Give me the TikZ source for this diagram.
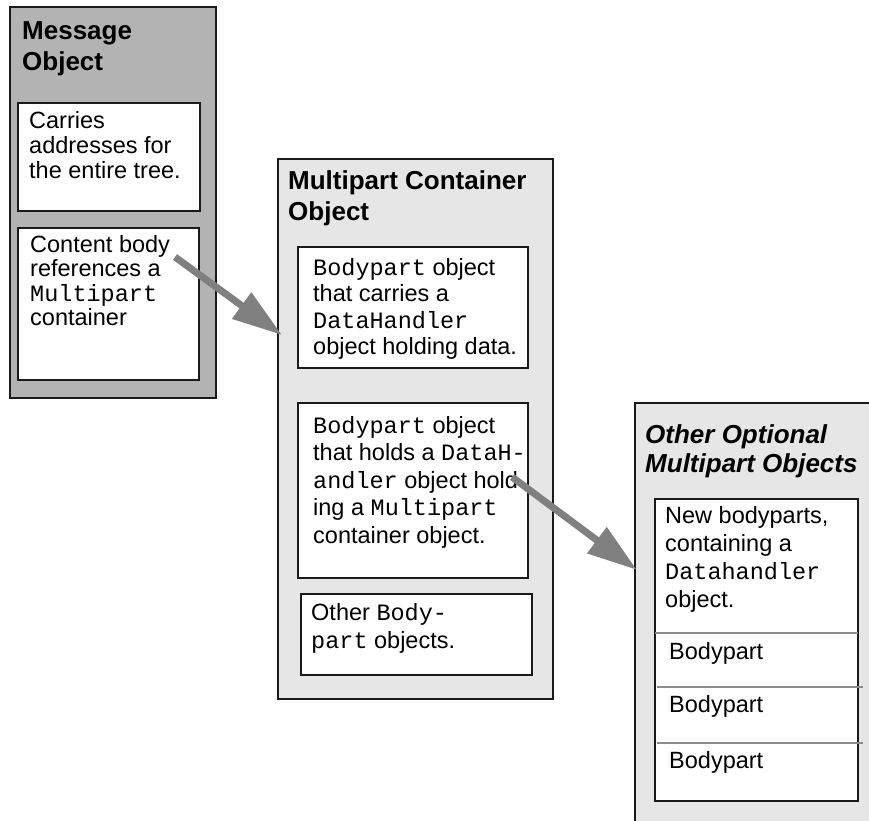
\documentclass[tikz,border=0pt]{standalone}
\usepackage{fontspec}
\setmainfont{Liberation Sans}
\setmonofont{Liberation Mono}
\usetikzlibrary{arrows.meta}
\definecolor{msgfill}{HTML}{B3B3B3}
\definecolor{ctrfill}{HTML}{E6E6E6}
\definecolor{arrowgray}{HTML}{808080}
\definecolor{divgray}{HTML}{8C8C8C}
\definecolor{edgecol}{HTML}{1A1A1A}
\newcommand{\mt}[1]{\texttt{#1}}
\begin{document}
\begin{tikzpicture}[x=1pt,y=-1pt,
  outerbox/.style={draw=edgecol, line width=1.3pt, anchor=north west, inner sep=0pt, outer sep=0pt},
  innerbox/.style={draw=edgecol, fill=white, line width=1.3pt, anchor=north west, inner sep=0pt, outer sep=0pt},
  headtxt/.style={anchor=base west, inner sep=0pt, align=left, font=\fontsize{26}{31}\selectfont\bfseries},
  bodytxt/.style={anchor=base west, inner sep=0pt, align=left, font=\fontsize{23.5}{#1}\selectfont},
  bodytxt/.default=27,
  bigarrow/.style={draw=arrowgray, line width=7pt, -{Triangle[length=50pt 0 0, width=31pt 0 0]}},
  divider/.style={draw=divgray, line width=1.5pt}
]
\useasboundingbox (0,0) rectangle (869,820);
\clip (0,0) rectangle (869,820);

% (text nodes are placed by the baseline of their LAST line)

% Message object
\node[outerbox, fill=msgfill, minimum width=206pt, minimum height=391pt] (msg) at (10,7) {};
\node[headtxt] (msgh) at (22,70) {Message\\Object};
\node[innerbox, minimum width=182pt, minimum height=108pt] (m1) at (18,103) {};
\node[bodytxt=25] (m1t) at (29,178) {Carries\\addresses for\\the entire tree.};
\node[innerbox, minimum width=181pt, minimum height=152pt] (m2) at (18,228) {};
\node[bodytxt=24.5] (m2t) at (30,325.5) {Content body\\references a\\\mt{Multipart}\\container};

% Multipart container
\node[outerbox, fill=ctrfill, minimum width=275pt, minimum height=540pt] (ctr) at (278,159) {};
\node[headtxt] (ctrh) at (288,220) {Multipart Container\\Object};
\node[innerbox, minimum width=230pt, minimum height=121pt] (c1) at (298,247) {};
\node[bodytxt=26.5] (c1t) at (313,354.5) {\mt{Bodypart} object\\that carries a\\\mt{DataHandler}\\object holding data.};
\node[innerbox, minimum width=230pt, minimum height=175pt] (c2) at (298,403) {};
\node[bodytxt=27.5] (c2t) at (313,543) {\mt{Bodypart} object\\that holds a \mt{DataH-}\\\mt{andler} object hold\\ing a \mt{Multipart}\\container object.};
\node[innerbox, minimum width=231pt, minimum height=81pt] (c3) at (301,594) {};
\node[bodytxt=28] (c3t) at (311,648) {Other \mt{Body-}\\\mt{part} objects.};

% Other optional multipart objects
\node[outerbox, fill=ctrfill, minimum width=260pt, minimum height=440pt] (opt) at (635,403) {};
\node[headtxt, font=\fontsize{26}{29}\selectfont\bfseries\itshape] (opth) at (645,472) {Other Optional\\Multipart Objects};
\node[innerbox, minimum width=203pt, minimum height=302pt] (o1) at (655,499) {};
\node[bodytxt=28] (o1t) at (665,607) {New bodyparts,\\containing a\\\mt{Datahandler}\\object.};
\draw[divider] (655,633) -- (858,633);
\draw[divider] (657,687) -- (863,687);
\draw[divider] (657,743) -- (863,743);
\node[bodytxt] (bp1) at (669,659) {Bodypart};
\node[bodytxt] (bp2) at (669,712) {Bodypart};
\node[bodytxt] (bp3) at (669,768) {Bodypart};

% Arrows
\coordinate (a1s) at (175,257);
\coordinate (a1e) at (282,335);
\coordinate (a2s) at (512,477);
\coordinate (a2e) at (637,570);
\draw[bigarrow] (a1s) -- (a1e);
\draw[bigarrow] (a2s) -- (a2e);
\end{tikzpicture}
\end{document}
